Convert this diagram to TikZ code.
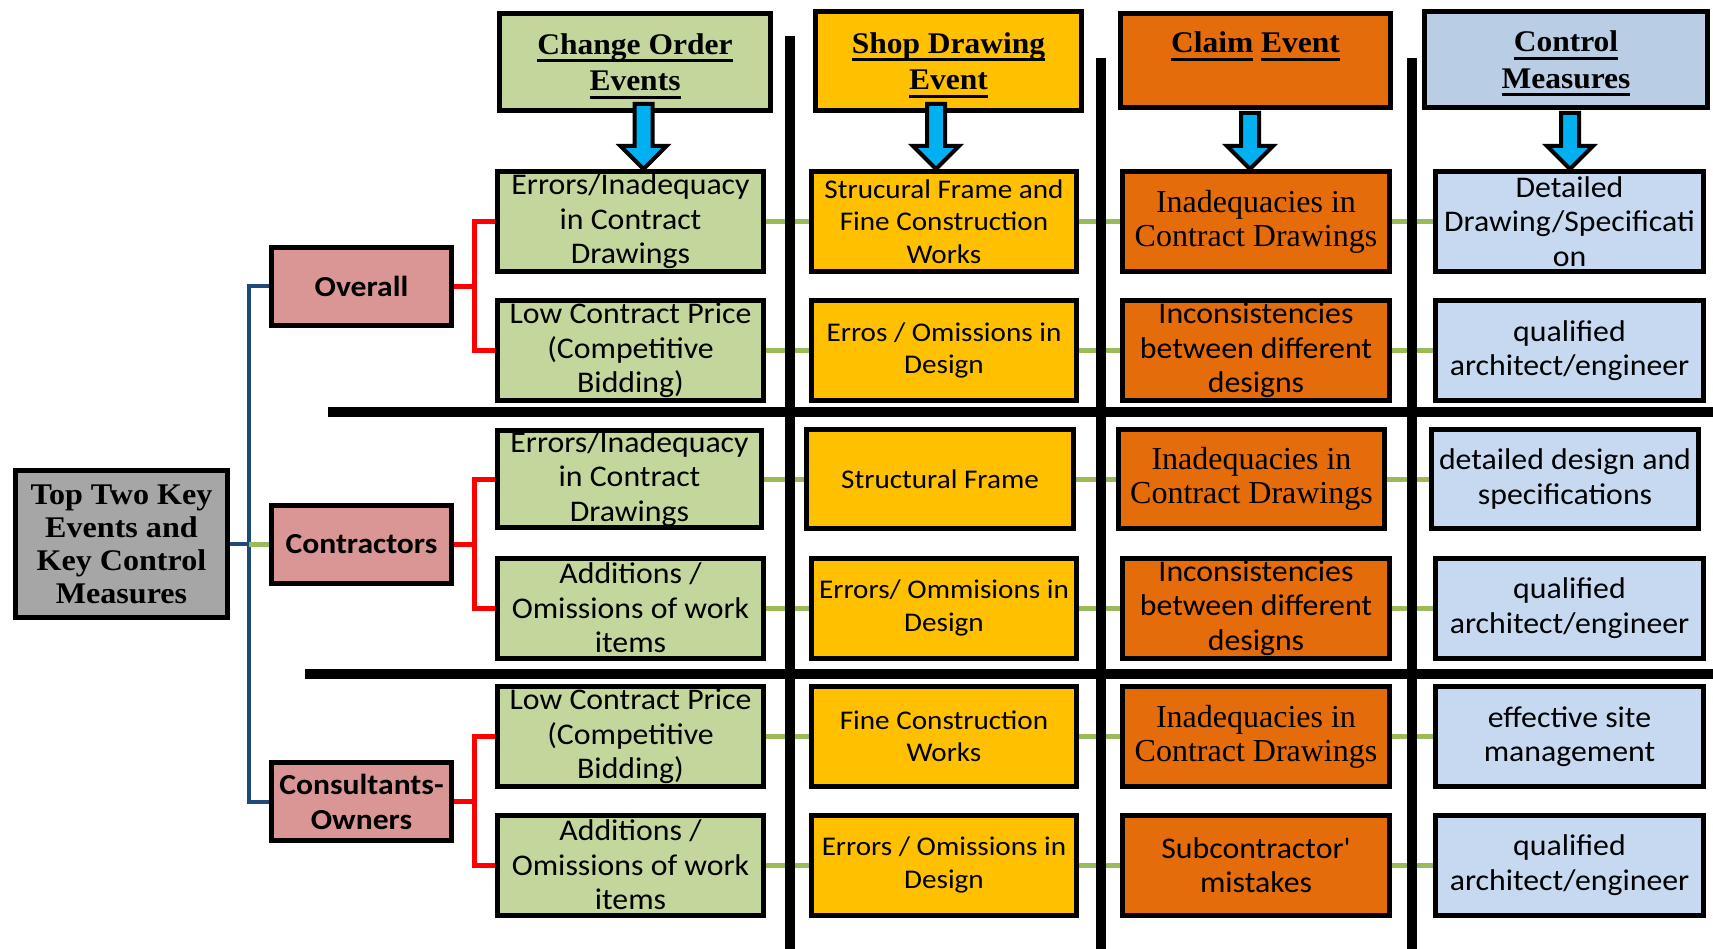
\documentclass[tikz,border=0pt]{standalone}
\usepackage{fontspec}
\usetikzlibrary{calc}
\setmainfont{Liberation Serif}
\newfontfamily\cellfont[FakeStretch=1.06]{Carlito}
\newfontfamily\shopfont[FakeStretch=1.08]{Carlito}
\newfontfamily\groupfont[FakeStretch=1.09]{Carlito}
\newfontfamily\hdrfont[FakeStretch=1.05]{Liberation Serif}
\newfontfamily\rootfont[FakeStretch=1.07]{Liberation Serif}
\newfontfamily\claimfont{Liberation Serif}

% thick underline for the column titles
\newsavebox\hdrsave
\newcommand\hdrline[1]{\sbox\hdrsave{#1}\leavevmode\rlap{\rule[-8pt]{\wd\hdrsave}{3pt}}\usebox\hdrsave}
% extra headroom on the first title line
\newcommand\hdrstrut{\rule{0pt}{29pt}}

\definecolor{cgreen}{HTML}{C3D69B}
\definecolor{cyellow}{HTML}{FFC000}
\definecolor{corange}{HTML}{E46C0A}
\definecolor{cblue}{HTML}{C6D9F1}
\definecolor{cbluehdr}{HTML}{B9CDE5}
\definecolor{cpink}{HTML}{D99694}
\definecolor{cgray}{HTML}{A6A6A6}
\definecolor{carrow}{HTML}{00B0F0}
\definecolor{cred}{HTML}{FF0000}
\definecolor{cnavy}{HTML}{1F497D}
\definecolor{colive}{HTML}{9BBB59}

\pgfdeclarelayer{bg}
\pgfsetlayers{bg,main}

% block arrow from a header down to the first cell of its column
% #1 = x position, #2 = header, #3 = cell, #4 = overlap with the header
\newcommand\blockarrow[4]{%
  \coordinate (#2-top) at ($(#2.south -| #1,0)+(0,-#4)$);
  \coordinate (#2-tip) at (#3.north -| #1,0);
  \filldraw[arrowbody]
    ([xshift=-9pt]#2-top) -- ([xshift=9pt]#2-top)
    -- ([xshift=9pt,yshift=23pt]#2-tip) -- ([xshift=23pt,yshift=23pt]#2-tip)
    -- (#2-tip)
    -- ([xshift=-23pt,yshift=23pt]#2-tip) -- ([xshift=-9pt,yshift=23pt]#2-tip)
    -- cycle;}

\tikzset{
  cellbox/.style={draw=black, line width=5pt, align=center, inner sep=1pt,
    text=black, minimum height=100pt},
  greencell/.style={cellbox, fill=cgreen, minimum width=266pt,
    font=\cellfont\fontsize{30}{34.5}\selectfont},
  yellowcell/.style={cellbox, fill=cyellow, minimum width=265pt,
    font=\shopfont\fontsize{27}{32.5}\selectfont},
  orangecell/.style={cellbox, fill=corange, minimum width=267pt,
    font=\cellfont\fontsize{30}{34.5}\selectfont},
  claimcell/.style={orangecell, font=\claimfont\fontsize{32}{34}\selectfont},
  bluecell/.style={cellbox, fill=cblue, minimum width=268pt,
    font=\cellfont\fontsize{30}{34.5}\selectfont},
  hdrbox/.style={cellbox, font=\hdrfont\bfseries\fontsize{30}{36.5}\selectfont},
  groupbox/.style={cellbox, fill=cpink, minimum width=180pt, minimum height=78pt,
    font=\groupfont\bfseries\fontsize{29}{35}\selectfont},
  rootbox/.style={cellbox, fill=cgray, minimum width=212pt, minimum height=147pt,
    font=\rootfont\bfseries\fontsize{30}{33}\selectfont},
  arrowbody/.style={fill=carrow, draw=black, line width=4pt, line join=miter},
  redlink/.style={draw=cred, line width=5pt, line join=miter},
  navylink/.style={draw=cnavy, line width=4pt, line join=miter},
  olivelink/.style={draw=colive, line width=5pt},
  sepline/.style={draw=black, line width=10pt}
}

\begin{document}
\begin{tikzpicture}[x=1pt,y=-1pt]
\useasboundingbox (0,0) rectangle (1713,949);

% column headers
\node[hdrbox, fill=cgreen, minimum width=271pt, minimum height=97pt] (h1) at (635,62)
  {\hdrstrut\hdrline{Change Order}\\\hdrline{Events}};
\node[hdrbox, fill=cyellow, minimum width=266pt, minimum height=99pt] (h2) at (948.5,61)
  {\hdrstrut\hdrline{Shop Drawing}\\\hdrline{Event}};
\node[hdrbox, fill=corange, minimum width=270pt, minimum height=94pt] (h3) at (1255.5,60.5)
  {\hdrline{Claim} \hdrline{Event}\\\mbox{}};
\node[hdrbox, fill=cbluehdr, minimum width=283pt, minimum height=96pt] (h4) at (1566,59.5)
  {\hdrstrut\hdrline{Control}\\\hdrline{Measures}};

% root and groups
\node[rootbox] (root) at (121.5,544) {Top Two Key\\Events and\\Key Control\\Measures};
\node[groupbox] (ov) at (361.5,286.5) {Overall};
\node[groupbox] (ct) at (361.5,544) {Contractors};
\node[groupbox] (cs) at (361.5,801.5) {Consultants-\\Owners};

% change order events
\node[greencell] (a1) at (630.5,221.5) {Errors/Inadequacy\\in Contract\\Drawings};
\node[greencell] (a2) at (630.5,350.5) {Low Contract Price\\(Competitive\\Bidding)};
\node[greencell, minimum width=264pt, minimum height=93pt] (a3) at (629.5,479)
  {Errors/Inadequacy\\in Contract\\Drawings};
\node[greencell] (a4) at (630.5,608) {Additions /\\Omissions of work\\items};
\node[greencell] (a5) at (630.5,736.5) {Low Contract Price\\(Competitive\\Bidding)};
\node[greencell] (a6) at (630.5,865) {Additions /\\Omissions of work\\items};

% shop drawing events
\node[yellowcell] (b1) at (944,221.5) {Strucural Frame and\\Fine Construction\\Works};
\node[yellowcell] (b2) at (944,350.5) {Erros / Omissions in\\Design};
\node[yellowcell, minimum width=267pt, minimum height=99pt] (b3) at (940,479) {Structural Frame};
\node[yellowcell] (b4) at (944,608) {Errors/ Ommisions in\\Design};
\node[yellowcell] (b5) at (944,736.5) {Fine Construction\\Works};
\node[yellowcell] (b6) at (944,865) {Errors / Omissions in\\Design};

% claim events
\node[claimcell] (c1) at (1256,221.5) {Inadequacies in\\Contract Drawings};
\node[orangecell] (c2) at (1256,350.5) {Inconsistencies\\between different\\designs};
\node[claimcell, minimum width=266pt, minimum height=99pt] (c3) at (1251.5,479)
  {Inadequacies in\\Contract Drawings};
\node[orangecell] (c4) at (1256,608) {Inconsistencies\\between different\\designs};
\node[claimcell] (c5) at (1256,736.5) {Inadequacies in\\Contract Drawings};
\node[orangecell] (c6) at (1256,865) {Subcontractor'\\mistakes};

% control measures
\node[bluecell] (d1) at (1569.5,221.5) {Detailed\\Drawing/Specificati\\on};
\node[bluecell] (d2) at (1569.5,350.5) {qualified\\architect/engineer};
\node[bluecell, minimum width=267pt, minimum height=99pt] (d3) at (1565,479)
  {detailed design and\\specifications};
\node[bluecell] (d4) at (1569.5,608) {qualified\\architect/engineer};
\node[bluecell] (d5) at (1569.5,736.5) {effective site\\management};
\node[bluecell] (d6) at (1569.5,865) {qualified\\architect/engineer};

\coordinate (jn) at (249,544);

\begin{pgfonlayer}{bg}
  % row links across the columns
  \foreach \r in {1,...,6} {
    \draw[olivelink] (a\r.east) -- (b\r.west);
    \draw[olivelink] (b\r.east) -- (c\r.west);
    \draw[olivelink] (c\r.east) -- (d\r.west);
  }
  % groups to their two events
  \draw[redlink] (ov.east) -- ++(20,0) |- (a1.west);
  \draw[redlink] (ov.east) -- ++(20,0) |- (a2.west);
  \draw[redlink] (ct.east) -- ++(20,0) |- (a3.west);
  \draw[redlink] (ct.east) -- ++(20,0) |- (a4.west);
  \draw[redlink] (cs.east) -- ++(20,0) |- (a5.west);
  \draw[redlink] (cs.east) -- ++(20,0) |- (a6.west);
  % root to groups
  \draw[navylink] (root.east) -- (jn);
  \draw[navylink] (ov.west) -- (ov.west -| jn) -- (cs.west -| jn) -- (cs.west);
  \draw[olivelink] (jn) -- (jn -| ct.west);
  % grid separators
  \draw[sepline] (790,36) -- (790,949);
  \draw[sepline] (1101,58) -- (1101,949);
  \draw[sepline] (1412,58) -- (1412,949);
  \draw[sepline] (328,412) -- (1713,412);
  \draw[sepline] (305,674) -- (1713,674);
\end{pgfonlayer}

% header arrows
\blockarrow{643.5}{h1}{a1}{9}
\blockarrow{936}{h2}{b1}{9}
\blockarrow{1250}{h3}{c1}{-3}
\blockarrow{1570}{h4}{d1}{-3}
\end{tikzpicture}
\end{document}
